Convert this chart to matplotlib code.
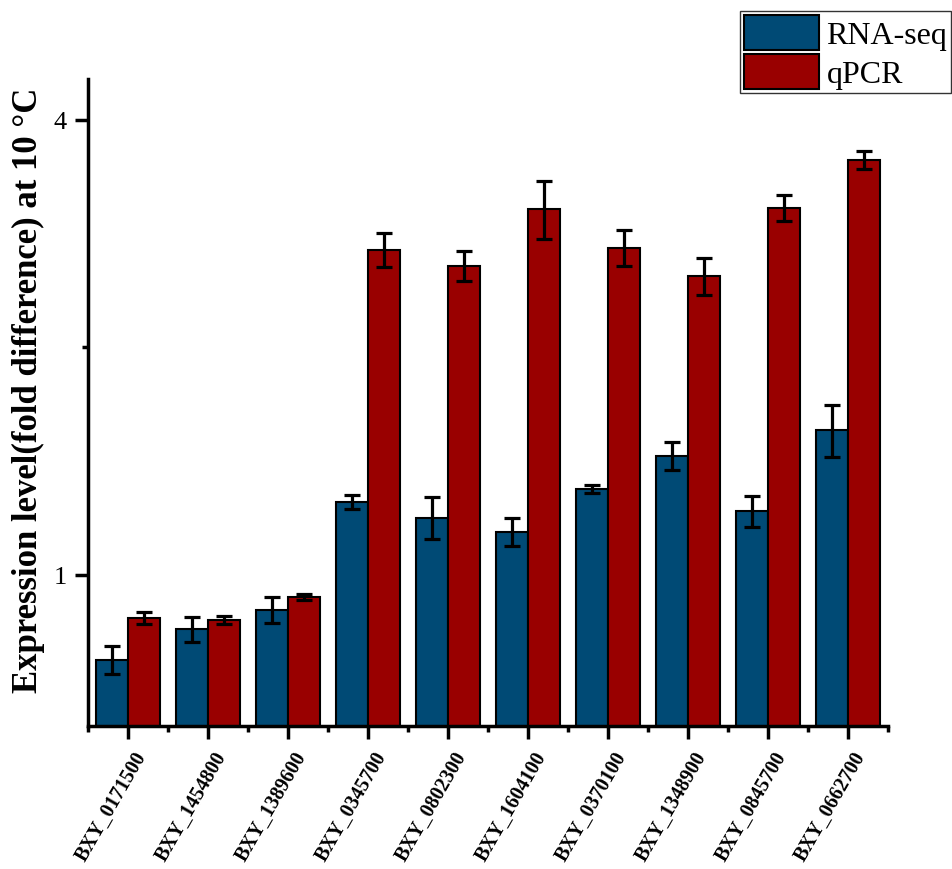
import numpy as np
import matplotlib.pyplot as plt
import matplotlib.transforms as mtrans
from matplotlib.ticker import FixedLocator, NullFormatter

genes = ['BXY_0171500', 'BXY_1454800', 'BXY_1389600', 'BXY_0345700', 'BXY_0802300',
         'BXY_1604100', 'BXY_0370100', 'BXY_1348900', 'BXY_0845700', 'BXY_0662700']
rnaseq = [0.772, 0.848, 0.899, 1.249, 1.190, 1.140, 1.300, 1.437, 1.215, 1.555]
rnaseq_err = [0.033, 0.032, 0.036, 0.027, 0.076, 0.049, 0.016, 0.061, 0.057, 0.121]
qpcr = [0.877, 0.872, 0.935, 2.692, 2.564, 3.050, 2.708, 2.487, 3.059, 3.541]
qpcr_err = [0.016, 0.011, 0.009, 0.139, 0.117, 0.270, 0.148, 0.140, 0.121, 0.097]

plt.rcParams['font.family'] = ['Liberation Serif', 'DejaVu Serif']

fig = plt.figure(figsize=(9.53, 8.7), dpi=100)
ax = fig.add_axes([0.0923, 0.1644, 0.839, 0.7437])

x = np.arange(len(genes))
w = 0.4
ekw = dict(elinewidth=2.3, capthick=2.3, capsize=5.8, ecolor='black')
ax.bar(x - w/2, rnaseq, w, yerr=rnaseq_err, color='#004A75', edgecolor='black',
       linewidth=1.5, label='RNA-seq', error_kw=ekw)
ax.bar(x + w/2, qpcr, w, yerr=qpcr_err, color='#990000', edgecolor='black',
       linewidth=1.5, label='qPCR', error_kw=ekw)

ax.set_yscale('log', base=2)
ax.set_ylim(0.631, 4.53)
ax.set_xlim(-0.5, 9.5)
ax.yaxis.set_major_locator(FixedLocator([1, 4]))
ax.yaxis.set_minor_locator(FixedLocator([2]))
ax.yaxis.set_minor_formatter(NullFormatter())
ax.set_yticklabels(['1', '4'], fontsize=19)

ax.set_xticks(x)
ax.set_xticks(np.arange(-0.5, 10, 1), minor=True)
ax.set_xticklabels([])
# rotated gene names, right end placed a bit right of and below each tick
off = mtrans.ScaledTranslation(14/100, -27/100, fig.dpi_scale_trans)
for xi, g in zip(x, genes):
    ax.text(xi, 0, g, transform=ax.get_xaxis_transform() + off, rotation=60,
            ha='right', va='center', rotation_mode='anchor', fontsize=14.5,
            fontweight='bold', clip_on=False)

for s in ['top', 'right']:
    ax.spines[s].set_visible(False)
for s in ['left', 'bottom']:
    ax.spines[s].set_linewidth(2.5)
ax.tick_params(which='major', direction='out', length=9.5, width=2.5)
ax.tick_params(which='minor', direction='out', length=4.5, width=2.5)
ax.tick_params(axis='y', which='major', pad=6)

ax.set_ylabel('Expression level(fold difference) at 10 \u00b0C', fontsize=25,
              fontweight='bold')
ax.yaxis.set_label_coords(-0.054, 0.521)

leg = fig.legend(loc='upper right', bbox_to_anchor=(0.998, 0.986), fontsize=23,
                 frameon=True, fancybox=False, edgecolor='black', handlelength=2.35,
                 handleheight=1.3, handletextpad=0.22, borderpad=0.12, labelspacing=0.12,
                 borderaxespad=0)
leg.get_frame().set_linewidth(1.0)

fig.savefig('out.png', dpi=100)
